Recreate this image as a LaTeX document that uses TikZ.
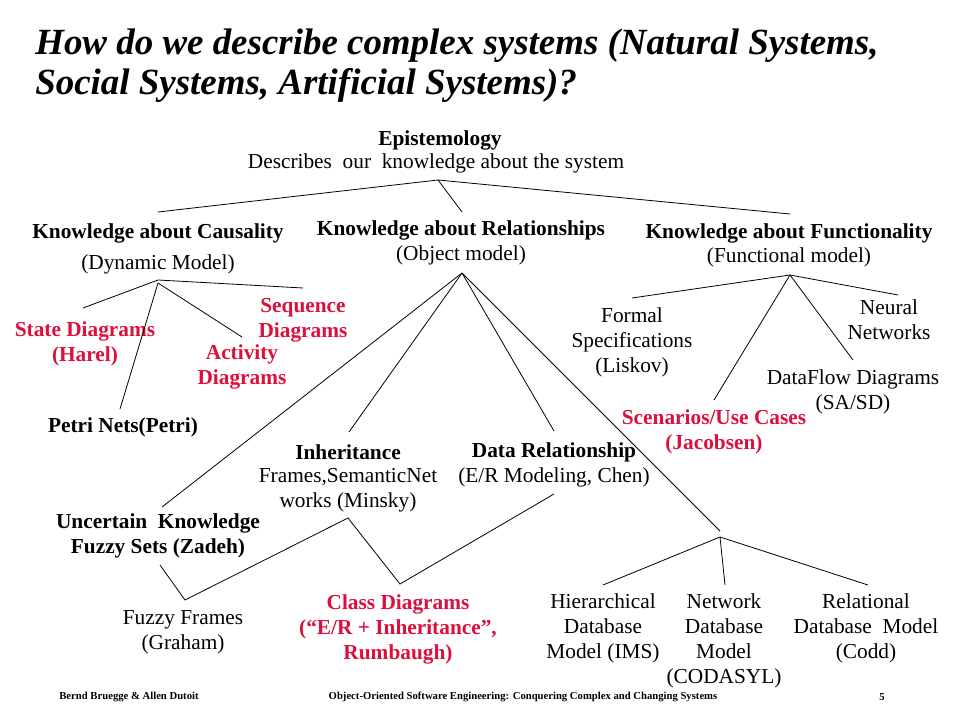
\documentclass[tikz,border=0pt]{standalone}
\usepackage{fontspec}
\setmainfont{Liberation Serif}
\usetikzlibrary{positioning}
\definecolor{slidered}{RGB}{220,16,60}

\begin{document}
\begin{tikzpicture}[
  x=0.75pt, y=-0.75pt, % one unit = one pixel of the slide
  txt/.style={align=center, inner sep=0pt, font=\fontsize{16}{18.75}\selectfont},
  head/.style={txt, font=\fontsize{16}{18.75}\selectfont\bfseries},
  hot/.style={head, text=slidered},
  foot/.style={inner sep=0pt, font=\fontsize{8}{9}\selectfont\bfseries},
  title/.style={anchor=base west, inner sep=0pt, font=\fontsize{27.7}{30}\selectfont\bfseries\itshape},
  link/.style={line width=0.6pt}
  ]
\useasboundingbox (0,0) rectangle (960,720);
% title
\node[title] (title1) at (35,55) {How do we describe complex systems (Natural Systems,};
\node[title] (title2) at (35,95) {Social Systems, Artificial Systems)?};
% top level
\node[head] (epi) at (440,140) {Epistemology};
\node[txt] (epidesc) at (436,163) {Describes~ our~ knowledge about the system};
\node[head] (caus) at (158,233) {Knowledge about Causality};
\node[txt] (causdesc) at (158,264) {(Dynamic Model)};
\node[head] (rel) at (461,230) {Knowledge about Relationships};
\node[txt] (reldesc) at (461,255) {(Object model)};
\node[head] (func) at (789,233) {Knowledge about Functionality};
\node[txt] (funcdesc) at (789,257) {(Functional model)};
% dynamic model
\node[hot] (state) at (85,344) {State Diagrams\\(Harel)};
\node[hot] (seq) at (303,320) {Sequence\\Diagrams};
\node[hot] (act) at (242,367) {Activity\\Diagrams};
\node[head] (petri) at (123,427) {Petri Nets(Petri)};
% object model
\node[head] (inh) at (348,452) {Inheritance};
\node[txt] (inhdesc) at (348,490) {Frames,SemanticNet\\works (Minsky)};
\node[head] (datarel) at (554,452) {Data Relationship};
\node[txt] (datadesc) at (554,477) {(E/R Modeling, Chen)};
\node[head] (uncert) at (158,536) {Uncertain~ Knowledge\\Fuzzy Sets (Zadeh)};
\node[txt] (fuzzy) at (183,632) {Fuzzy Frames\\(Graham)};
\node[hot] (classd) at (398,629) {Class Diagrams\\(“E/R + Inheritance”,\\Rumbaugh)};
\node[txt] (hier) at (603,628) {Hierarchical\\Database\\Model (IMS)};
\node[txt] (netw) at (724,641) {Network\\Database\\Model\\(CODASYL)};
\node[txt] (relat) at (866,628) {Relational\\Database~ Model\\(Codd)};
% functional model
\node[txt] (formal) at (632,342) {Formal\\Specifications\\(Liskov)};
\node[txt] (neural) at (889,320) {Neural\\Networks};
\node[txt] (flow) at (853,392) {DataFlow Diagrams\\(SA/SD)};
\node[hot] (scen) at (714,432) {Scenarios/Use Cases\\(Jacobsen)};
% footer
\node[foot] (authors) at (129,697) {Bernd Bruegge \& Allen Dutoit};
\node[foot] (book) at (523,697) {Object-Oriented Software Engineering: Conquering Complex and Changing Systems};
\node[foot] (page) at (882,697) {5};

% branch points
\coordinate (epi-root) at (438,180);
\coordinate (caus-in) at (158,212);
\coordinate (rel-in) at (462,212);
\coordinate (func-in) at (790,214);
\coordinate (caus-root) at (158,280);
\coordinate (caus-root2) at (158,283);
\coordinate (state-in) at (83,308);
\coordinate (seq-in) at (303,288);
\coordinate (act-in) at (242,337);
\coordinate (petri-in) at (120,409);
\coordinate (rel-root) at (462,273);
\coordinate (uncert-in) at (162,507);
\coordinate (inh-in) at (349,432);
\coordinate (data-in) at (554,431);
\coordinate (db-in) at (720,531);
\coordinate (func-root) at (790,275);
\coordinate (formal-in) at (632,298);
\coordinate (scen-in) at (714,400);
\coordinate (flow-in) at (853,360);
\coordinate (neural-in) at (898,295);
\coordinate (uncert-out) at (160,565);
\coordinate (fuzzy-in) at (185,600);
\coordinate (inh-out) at (348,518);
\coordinate (class-in) at (400,584);
\coordinate (data-out) at (554,494);
\coordinate (db-root) at (720,537);
\coordinate (hier-in) at (603,585);
\coordinate (netw-in) at (725,585);
\coordinate (relat-in) at (868,585);

\foreach \c in {caus-in,rel-in,func-in} \draw[link] (epi-root) -- (\c);
\foreach \c in {state-in,seq-in} \draw[link] (caus-root) -- (\c);
\foreach \c in {act-in,petri-in} \draw[link] (caus-root2) -- (\c);
\foreach \c in {uncert-in,inh-in,data-in,db-in} \draw[link] (rel-root) -- (\c);
\foreach \c in {formal-in,scen-in,flow-in,neural-in} \draw[link] (func-root) -- (\c);
\foreach \c in {hier-in,netw-in,relat-in} \draw[link] (db-root) -- (\c);
\draw[link] (uncert-out) -- (fuzzy-in) -- (inh-out) -- (class-in) -- (data-out);
\end{tikzpicture}
\end{document}
